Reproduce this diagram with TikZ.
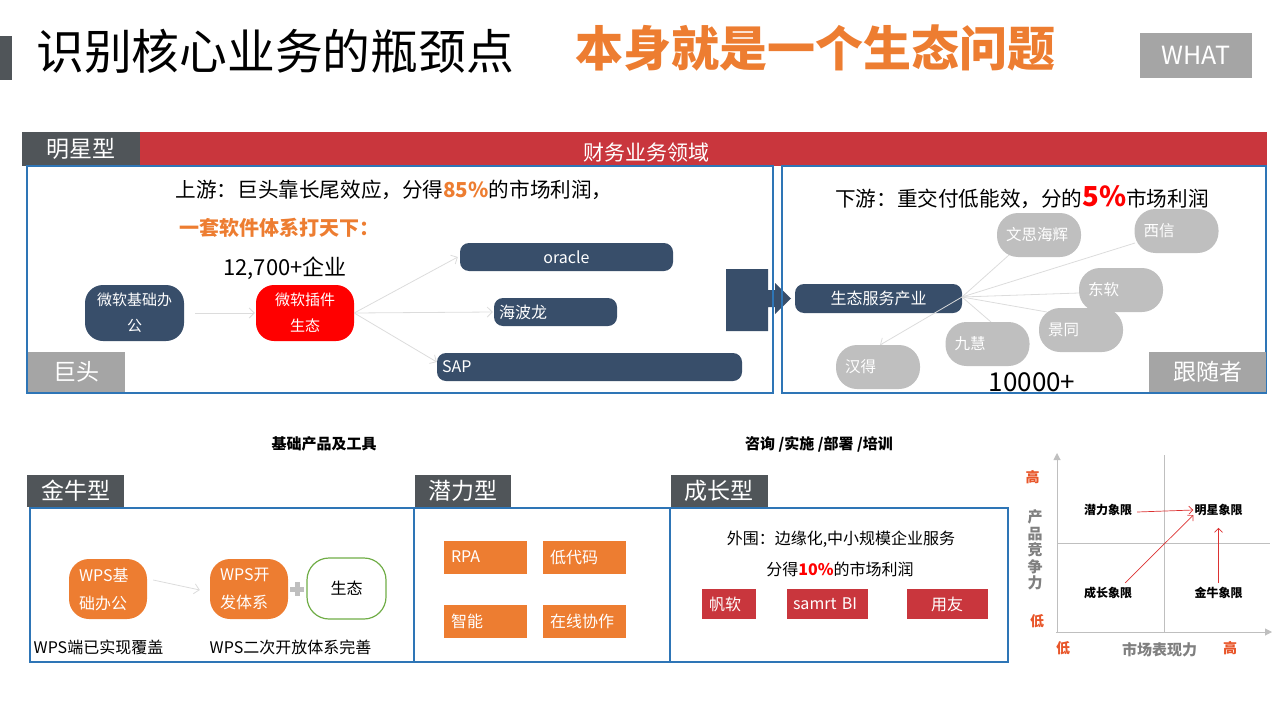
\documentclass[tikz,border=0pt]{standalone}
\usepackage{fontspec}
\setmainfont{Noto Sans CJK SC}
\usetikzlibrary{arrows.meta}
\definecolor{tagdark}{RGB}{80,85,89}
\definecolor{navy}{RGB}{56,78,106}
\definecolor{redbar}{RGB}{201,54,61}
\definecolor{orangeC}{RGB}{237,125,49}
\definecolor{boxgray}{RGB}{165,165,165}
\definecolor{pillgray}{RGB}{191,191,191}
\definecolor{blueline}{RGB}{46,117,182}
\definecolor{greenline}{RGB}{112,173,71}
\definecolor{quadorange}{RGB}{232,86,42}
\definecolor{conngray}{RGB}{220,220,220}
\definecolor{axisgray}{RGB}{191,191,191}
\definecolor{labelgray}{RGB}{128,128,128}
\definecolor{arrowred}{RGB}{220,50,50}
\newcommand{\fsz}[1]{\fontsize{#1}{#1}\selectfont}
\newcommand{\fszl}[2]{\fontsize{#1}{#2}\selectfont}
\begin{document}
\begin{tikzpicture}[x=1pt,y=-1pt,
  tagbox/.style={fill=tagdark, text=white, inner sep=0pt, font=\fsz{23}},
  graytag/.style={fill=boxgray, text=white, inner sep=0pt, font=\fsz{23}},
  navybox/.style={fill=navy, text=white, inner sep=0pt, rounded corners=9pt, minimum height=28pt, font=\fsz{16}},
  navyleft/.style={navybox, inner xsep=5pt, align=left},
  pill/.style={fill=pillgray, text=white, rounded corners=21pt, minimum width=84pt, minimum height=44pt, inner sep=0pt, inner xsep=9pt, text width=66pt, align=left, font=\fsz{15.5}},
  blob/.style={text=white, inner sep=0pt, rounded corners=18pt, minimum width=98pt, minimum height=56pt, align=center, font=\fszl{15}{26}},
  wpsblob/.style={fill=orangeC, text=white, inner sep=0pt, inner xsep=10pt, rounded corners=20pt, minimum height=60pt, text width=58pt, align=left, font=\fszl{16}{28}},
  orect/.style={fill=orangeC, text=white, inner sep=0pt, inner xsep=7pt, minimum height=33pt, text width=69pt, align=left, font=\fsz{16}},
  rrect/.style={fill=redbar, text=white, inner sep=0pt, minimum height=30pt, font=\fsz{16}},
  conn/.style={draw=conngray, line width=0.8pt},
  connarrow/.style={conn, -{Straight Barb[length=5pt,width=10pt]}},
  frame/.style={draw=blueline, line width=1.1pt},
  quadlab/.style={font=\fsz{12}\bfseries},
  hilo/.style={text=quadorange, font=\fsz{14}\bfseries},
  quadarrow/.style={draw=arrowred, line width=0.7pt, -{Straight Barb[length=4pt,width=8pt]}},
  axis/.style={draw=axisgray, line width=1pt, -{Triangle[length=7pt,width=7pt]}},
  grid/.style={draw=axisgray, line width=0.8pt}
]
\useasboundingbox (0,0) rectangle (1280,720);

% ---------- title ----------
\fill[tagdark] (0,36) rectangle (12,80);
\node[anchor=west, inner sep=0pt, font=\fsz{47.8}] (title) at (36,51) {识别核心业务的瓶颈点};
\node[anchor=west, inner sep=0pt, text=orangeC, font=\fsz{48}\bfseries] (subtitle) at (575,48) {本身就是一个生态问题};
\node[fill=boxgray, text=white, minimum width=112pt, minimum height=45pt, inner sep=0pt, font=\fsz{25}] (what) at (1196,55.5) {WHAT};

% ---------- header bar ----------
\fill[redbar] (140,132) rectangle (1267,166);
\node[tagbox, minimum width=118pt, minimum height=34pt] (star) at (81,149) {明星型};
\node[text=white, font=\fsz{21}, inner sep=0pt] (domain) at (646,153) {财务业务领域};

% ---------- big arrow (under frames) ----------
\fill[navy] (726,269) -- (768,269) -- (768,290) -- (775,290) -- (775,283) -- (791,298.5) -- (775,314) -- (775,307) -- (768,307) -- (768,331) -- (726,331) -- cycle;

% ---------- frames ----------
\draw[frame] (27,166) rectangle (773,393);
\draw[frame] (782,166) rectangle (1266,393);

% ---------- upstream ----------
\node[font=\fsz{20.6}, inner sep=0pt] (up) at (394,190) {上游：巨头靠长尾效应，分得{\bfseries\color{orangeC}85\%}的市场利润，};
\node[font=\fsz{20}\bfseries, text=orangeC, inner sep=0pt] (slogan) at (279,228) {一套软件体系打天下：};
\node[font=\fsz{22}, inner sep=0pt] (count1) at (285,268) {12,700+企业};

\node[blob, fill=navy, minimum width=99pt] (ms) at (134.5,313) {微软基础办\\公};
\node[blob, fill=red] (plug) at (305,313) {微软插件\\生态};
\node[navybox, minimum width=213pt] (oracle) at (566.5,257) {oracle};
\node[navyleft, text width=113pt] (hyperion) at (555.5,312) {海波龙};
\node[navyleft, text width=295pt] (sap) at (589.5,367) {SAP};

\draw[connarrow] ([xshift=11pt]ms.east) -- ([xshift=-1pt]plug.west);
\draw[connarrow] (plug.east) -- ([xshift=-2pt]oracle.west);
\draw[connarrow] (plug.east) -- ([xshift=-1pt]hyperion.west);
\draw[connarrow] (plug.east) -- ([yshift=5pt]sap.west);

\node[graytag, minimum width=97pt, minimum height=40pt] (giant) at (76.5,372) {巨头};

% ---------- downstream ----------
\node[font=\fsz{20.6}, inner sep=0pt] (down) at (1022,197) {下游：重交付低能效，分的{\fsz{27.5}\bfseries\color{red}5\%}市场利润};
\node[navybox, minimum width=167pt, minimum height=29pt] (eco) at (878.5,298.5) {生态服务产业};

\coordinate (ecoR) at (962,297);
\draw[conn] (ecoR) -- (1009,255);
\draw[conn] (ecoR) -- (1135,243);
\draw[conn] (ecoR) -- (1079,293);
\draw[conn] (ecoR) -- (1047,312);
\draw[conn] (ecoR) -- (991,322);
\draw[connarrow] (ecoR) -- (880,345);

\node[pill] (wensi) at (1039,235) {文思海辉};
\node[pill] (xixin) at (1176.5,231) {西信};
\node[pill] (neusoft) at (1121,290) {东软};
\node[pill] (jingtong) at (1081,330) {景同};
\node[pill] (jiuhui) at (987.5,344) {九慧};
\node[pill] (hand) at (878,367) {汉得};

\node[font=\fsz{26}, inner sep=0pt] (count2) at (1032,382) {10000+};
\node[graytag, minimum width=117pt, minimum height=40pt] (follower) at (1207.5,372) {跟随者};

% ---------- bottom headings ----------
\node[font=\fsz{15}\bfseries, inner sep=0pt] (h1) at (324,444) {基础产品及工具};
\node[font=\fsz{15}\bfseries, inner sep=0pt] (h2) at (819,444) {咨询 /实施 /部署 /培训};

\node[tagbox, minimum width=97pt, minimum height=32pt] (cow) at (75.5,491) {金牛型};
\node[tagbox, minimum width=96pt, minimum height=32pt] (potential) at (463,491) {潜力型};
\node[tagbox, minimum width=97pt, minimum height=32pt] (growth) at (719,491) {成长型};

\draw[frame] (30,508) rectangle (1008,662);
\draw[frame] (414,508) -- (414,662);
\draw[frame] (670,508) -- (670,662);

% cow section
\node[wpsblob] (wpsbase) at (108,589) {WPS基\\础办公};
\node[wpsblob] (wpsdev) at (249,589) {WPS开\\发体系};
\fill[pillgray] (290,586.5) rectangle (304,591.5);
\fill[pillgray] (294.5,582) rectangle (299.5,596);
\node[draw=greenline, line width=1.2pt, rounded corners=22pt, minimum width=79pt, minimum height=61pt, inner sep=0pt, font=\fsz{16}] (eco2) at (346.5,588.5) {生态};
\draw[connarrow] ([xshift=6pt,yshift=9pt]wpsbase.east) -- ([xshift=-10pt,yshift=-1pt]wpsdev.west);
\node[font=\fsz{16}, inner sep=0pt] (cap1) at (98.5,647) {WPS端已实现覆盖};
\node[font=\fsz{16}, inner sep=0pt] (cap2) at (290.5,647) {WPS二次开放体系完善};

% potential section
\node[orect] (rpa) at (485.5,557) {RPA};
\node[orect] (lowcode) at (584.5,557) {低代码};
\node[orect] (ai) at (485.5,621) {智能};
\node[orect] (collab) at (584.5,621) {在线协作};

% growth section
\node[font=\fsz{16}, inner sep=0pt] (outer) at (841,539) {外围：边缘化,中小规模企业服务};
\node[font=\fsz{16}, inner sep=0pt] (share) at (840,569) {分得{\bfseries\color{red}10\%}的市场利润};
\node[rrect, minimum width=54pt, inner xsep=7pt, text width=40pt, align=left] (fanruan) at (729,604) {帆软};
\node[rrect, minimum width=81pt, inner xsep=6pt, text width=69pt, align=left] (smartbi) at (827.5,604) {samrt BI};
\node[rrect, minimum width=81pt] (yonyou) at (947,604) {用友};

% ---------- quadrant chart ----------
\draw[grid] (1164,455) -- (1164,632);
\draw[grid] (1057,543) -- (1270,543);
\draw[axis] (1057,633) -- (1057,453);
\draw[axis] (1056,632) -- (1272,632);

\node[hilo] (hiY) at (1032.5,477) {高};
\node[hilo] (loY) at (1037,621) {低};
\node[hilo] (loX) at (1063,648) {低};
\node[hilo] (hiX) at (1230,648) {高};
\node[text=labelgray, font=\fszl{15}{16.5}\bfseries, align=center, inner sep=0pt] (yl) at (1035,550) {产\\品\\竞\\争\\力};
\node[text=labelgray, font=\fsz{15}\bfseries, inner sep=0pt] (xl) at (1159.5,650) {市场表现力};

\node[quadlab, inner sep=0pt] (qp) at (1108,510) {潜力象限};
\node[quadlab, inner sep=0pt] (qs) at (1218.5,510) {明星象限};
\node[quadlab, inner sep=0pt] (qg) at (1108,593) {成长象限};
\node[quadlab, inner sep=0pt] (qc) at (1218.5,593) {金牛象限};
\draw[quadarrow] ([xshift=5pt,yshift=-2pt]qp.east) -- ([xshift=-1pt]qs.west);
\draw[quadarrow] ([xshift=-7pt,yshift=4pt]qg.north east) -- ([xshift=-1pt,yshift=-5pt]qs.west);
\draw[quadarrow] ([yshift=4pt]qc.north) -- ([yshift=-12pt]qs.south);
\end{tikzpicture}
\end{document}
